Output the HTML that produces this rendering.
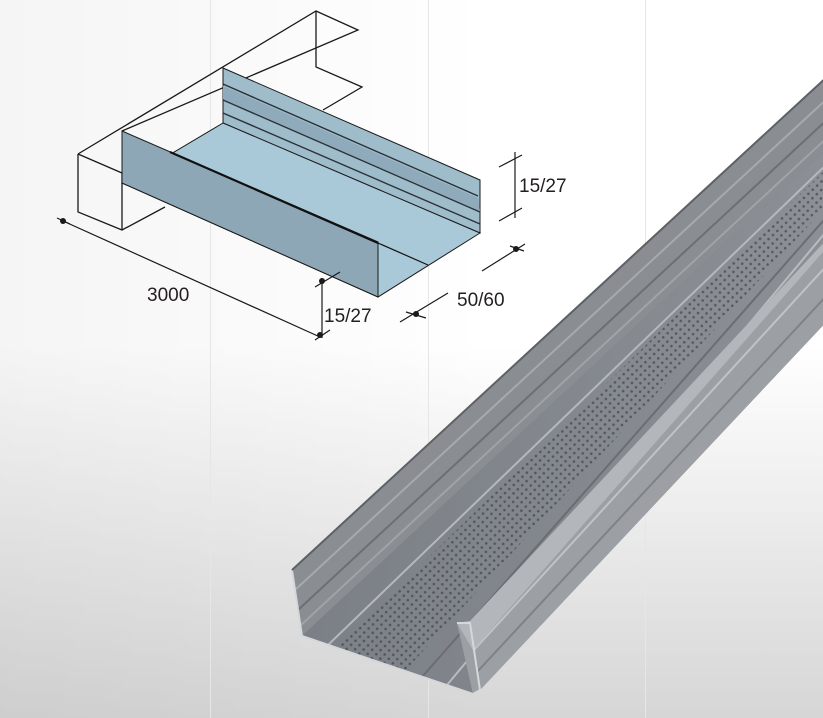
<!DOCTYPE html>
<html><head><meta charset="utf-8"><style>
html,body{margin:0;padding:0;}
body{width:823px;height:718px;overflow:hidden;background:#fff;}
svg{display:block}
text{font-family:"Liberation Sans Narrow","Liberation Sans",sans-serif;font-size:19px;fill:#231f20}
</style></head><body>
<svg width="823" height="718" viewBox="0 0 823 718" xmlns="http://www.w3.org/2000/svg">
<defs>
<linearGradient id="bg" x1="0" y1="0" x2="0" y2="1">
<stop offset="0" stop-color="#fff"/><stop offset="0.48" stop-color="#fff"/><stop offset="1" stop-color="#d6d6d6"/>
</linearGradient>
<linearGradient id="bgh" x1="0" y1="0" x2="1" y2="0">
<stop offset="0" stop-color="#000" stop-opacity="0.04"/><stop offset="0.6" stop-color="#000" stop-opacity="0"/>
</linearGradient>
<pattern id="dots" width="6" height="6" patternUnits="userSpaceOnUse" patternTransform="rotate(-43)">
<circle cx="3" cy="3" r="1.3" fill="#3d4146" opacity="0.7"/>
</pattern>
<linearGradient id="fl" x1="0" y1="0" x2="1" y2="0">
<stop offset="0" stop-color="#7b8086"/><stop offset="1" stop-color="#8c9096"/>
</linearGradient>
</defs>
<rect width="823" height="718" fill="url(#bg)"/>
<rect width="823" height="718" fill="url(#bgh)"/>
<g stroke="#e6e6e6" stroke-width="1">
<line x1="210.5" y1="0" x2="210.5" y2="718"/>
<line x1="428.5" y1="0" x2="428.5" y2="718"/>
<line x1="645.5" y1="0" x2="645.5" y2="718"/>
</g>

<!-- wireframe -->
<g fill="none" stroke="#1a1a1a" stroke-width="1.3">
<polyline points="78,154 316,11 358,30 122,131"/>
<polyline points="316,11 316,67 362,87 323,110"/>
<polyline points="78,154 78,212 122,230 165,207"/>
<line x1="78" y1="154" x2="122" y2="173"/>
<line x1="122" y1="173" x2="122" y2="230"/>
</g>

<!-- back wall -->
<polygon points="223,68 480,180 480,233 223,123" fill="#9fbccb" stroke="#1a1a1a" stroke-width="1"/>
<g stroke="#2a3238" stroke-width="1.4">
<line x1="223" y1="84" x2="478" y2="196"/>
<line x1="223" y1="100" x2="480" y2="212"/>
<line x1="223" y1="113" x2="480" y2="224"/>
</g>
<polygon points="223,86 478,198 480,211 223,99" fill="#8eaabb"/>
<!-- floor -->
<polygon points="223,123 480,233 378,297 122,183" fill="#a9c9d8" stroke="#1a1a1a" stroke-width="1"/>
<!-- front wall -->
<polygon points="122,131 378,242 378,297 122,183" fill="#8ea7b7" stroke="#1a1a1a" stroke-width="1"/>
<line x1="170" y1="152" x2="378" y2="243" stroke="#111" stroke-width="2.2"/>
<line x1="378" y1="243" x2="428" y2="265" stroke="#111" stroke-width="1.2"/>

<!-- dimensions -->
<g stroke="#1a1a1a" stroke-width="1.2" fill="none">
<line x1="63" y1="221" x2="320" y2="337"/>
<line x1="322" y1="278" x2="322" y2="338"/>
<line x1="315" y1="287" x2="340" y2="272"/>
<line x1="315" y1="340" x2="330" y2="330"/>
<line x1="400" y1="322" x2="448" y2="293"/>
<line x1="482" y1="271" x2="525" y2="244"/>
<line x1="515" y1="152" x2="515" y2="218"/>
<line x1="499" y1="167" x2="522" y2="155"/>
<line x1="499" y1="221" x2="522" y2="208"/>
<line x1="57" y1="218" x2="70" y2="224"/>
<line x1="510" y1="246" x2="524" y2="251"/>
<line x1="406" y1="312" x2="426" y2="318"/>
</g>
<g fill="#1a1a1a">
<circle cx="63" cy="221" r="3"/><circle cx="322" cy="281" r="3"/><circle cx="320" cy="335" r="3"/>
<circle cx="416" cy="314" r="3"/><circle cx="516" cy="249" r="3"/>
</g>
<text x="147" y="301">3000</text>
<text x="324" y="322">15/27</text>
<text x="457" y="306">50/60</text>
<text x="519" y="192">15/27</text>

<!-- metal profile -->
<polygon points="292,570 830,74 830,318 480,690 473,694 302,636" fill="#6f7378"/>
<polygon points="292,570 830,74 830,146 302,636" fill="#8a8e93"/>
<polygon points="302,636 830,146 830,250 473,694" fill="url(#fl)"/>
<polygon points="336,648 830,165 830,202 405,671" fill="url(#dots)"/>
<g stroke-width="2" fill="none">
<line x1="295" y1="590" x2="830" y2="96" stroke="#a6aaae"/>
<line x1="298" y1="610" x2="830" y2="117" stroke="#6c7075"/>
<line x1="300" y1="626" x2="830" y2="135" stroke="#a0a4a8"/>
<line x1="328" y1="645" x2="830" y2="161" stroke="#b5b8bc"/>
<line x1="422" y1="677" x2="830" y2="213" stroke="#6a6e73"/>
<line x1="447" y1="685" x2="830" y2="227" stroke="#b8bbbf"/>
</g>
<!-- right wall drawn over floor -->
<polygon points="457,623 470,621 830,236 830,318 480,690 473,694" fill="#9ca0a5"/>
<polygon points="457,623 470,621 830,236 830,244 473,650" fill="#b3b6ba"/>
<g stroke-width="2" fill="none">
<line x1="474" y1="650" x2="830" y2="262" stroke="#c0c3c6"/>
<line x1="477" y1="672" x2="830" y2="292" stroke="#7e8287"/>
</g>
<polyline points="292,570 302,636 473,694 480,690 470,623 457,623" fill="none" stroke="#d5d8da" stroke-width="2"/>
<line x1="292" y1="570" x2="830" y2="74" stroke="#5d6166" stroke-width="2"/>
</svg>
</body></html>
